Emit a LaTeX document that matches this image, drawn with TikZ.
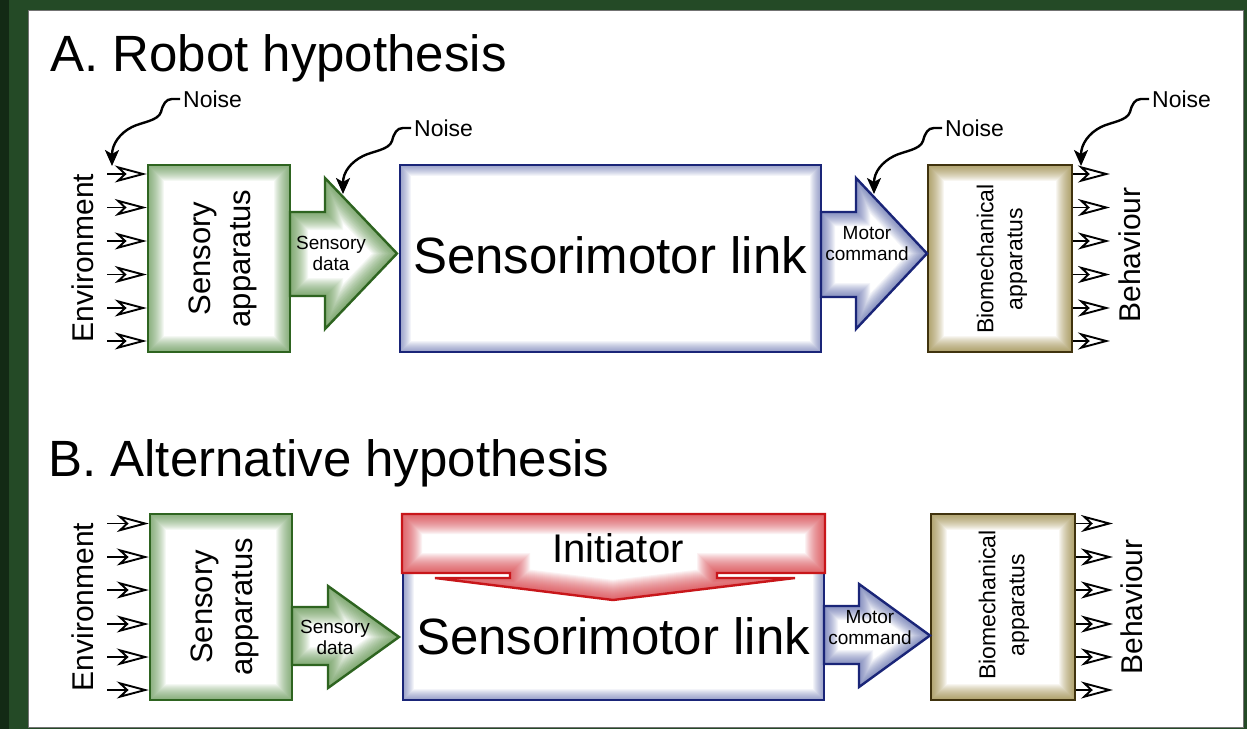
\documentclass[tikz,border=0pt]{standalone}
\usepackage{fontspec}
\setmainfont{Liberation Sans}
\usetikzlibrary{arrows.meta}

\definecolor{framegreen}{HTML}{244A26}
\definecolor{framedark}{HTML}{132A15}
\definecolor{sgreen}{HTML}{2E6420}
\definecolor{gglow}{HTML}{4F8A3A}
\definecolor{lblue}{HTML}{1A2578}
\definecolor{bglow}{HTML}{3A4C9A}
\definecolor{mbrown}{HTML}{40330E}
\definecolor{brglow}{HTML}{8A7420}
\definecolor{ired}{HTML}{C8161A}
\definecolor{rglow}{HTML}{D83038}

% white shape with a soft inner glow and a solid border
\newcommand\glowshape[4]{%
  \fill[white] #1;
  \begin{scope}
    \clip #1;
    \foreach \gw in {1,...,#4}
      \draw[#3, opacity=0.06, line width=2*\gw pt, line join=miter] #1;
  \end{scope}
  \draw[#2, line width=2.4pt, line join=miter] #1;
}

\tikzset{
  glowbox/.style n args={3}{draw=#1, line width=2.4pt, fill=white, inner sep=0pt,
    path picture={\foreach \gw in {1,...,#3}
      \draw[#2, opacity=0.06, line width=2*\gw pt]
        (path picture bounding box.south west) rectangle (path picture bounding box.north east);}},
  title/.style={anchor=base west, inner sep=0pt, font=\fontsize{51}{61}\selectfont},
  big/.style={inner sep=0pt, font=\fontsize{51}{61}\selectfont},
  mid/.style={inner sep=0pt, font=\fontsize{40}{48}\selectfont},
  side/.style={inner sep=0pt, rotate=90, font=\fontsize{30}{36}\selectfont},
  sensetxt/.style={inner sep=0pt, rotate=90, align=center, font=\fontsize{31}{40}\selectfont},
  biotxt/.style={inner sep=0pt, rotate=90, align=center, font=\fontsize{23}{29}\selectfont},
  small/.style={inner sep=0pt, align=center, font=\fontsize{19}{21}\selectfont},
  noisetxt/.style={anchor=west, inner sep=3pt, font=\fontsize{23}{28}\selectfont},
  noisearrow/.style={line width=2.4pt, -{Stealth[length=16pt, width=14pt, inset=4pt]}},
  envarrow/.style={line width=1.8pt, -{Stealth[open, fill=white, length=32pt, width=17pt, inset=9pt, line width=1.9pt]}},
}

\begin{document}
\begin{tikzpicture}[x=1pt, y=-1pt]
\useasboundingbox (0,0) rectangle (1247,729);

% frame and sheet
\fill[framegreen] (0,0) rectangle (1247,729);
\fill[framedark] (0,0) rectangle (9,729);
\fill[white] (28,10) rectangle (1243,727);
\draw[black!55, line width=1pt] (28,10) rectangle (1243,727);

% ---------------- A. Robot hypothesis ----------------
\node[title] (titleA) at (50,71) {A. Robot hypothesis};

\node[glowbox={sgreen}{gglow}{16}, minimum width=142pt, minimum height=187pt] (sensA) at (219,258.5) {};
\node[glowbox={lblue}{bglow}{11}, minimum width=421pt, minimum height=187pt] (smA) at (610.5,258.5) {};
\node[glowbox={mbrown}{brglow}{16}, minimum width=144pt, minimum height=187pt] (bioA) at (1000,258.5) {};

% block arrows
\glowshape{(290,212) -- (325,212) -- (325,178) -- (397,253.5) -- (325,329) -- (325,296) -- (290,296) -- cycle}{sgreen}{gglow}{18}
\glowshape{(821,212) -- (856,212) -- (856,178) -- (927,253.5) -- (856,329) -- (856,297) -- (821,297) -- cycle}{lblue}{bglow}{14}

\node[sensetxt] (sensAtxt) at (223,258.5) {Sensory\\apparatus};
\node[big] (smAtxt) at (610,255) {Sensorimotor link};
\node[biotxt] (bioAtxt) at (1002,259) {Biomechanical\\apparatus};
\node[small] (sdA) at (331,253) {Sensory\\data};
\node[small] (mcA) at (867,244) {Motor\\command};
\node[side] (envA) at (83,258) {Environment};
\node[side] (behA) at (1130,255) {Behaviour};

\foreach \yy [count=\i] in {174,207.5,241,274.5,308,341} {
  \coordinate (eA\i) at (107,\yy);
  \draw[envarrow] (eA\i) -- (eA\i -| sensA.west);
  \coordinate (bA\i) at (1110,\yy);
  \draw[envarrow] (bA\i -| bioA.east) -- (bA\i);
}

% noise sources
\node[noisetxt] (nz1) at (180,99) {Noise};
\node[noisetxt] (nz2) at (411,128) {Noise};
\node[noisetxt] (nz3) at (942,128) {Noise};
\node[noisetxt] (nz4) at (1149,99) {Noise};
\coordinate (nt1) at (112,166);
\coordinate (nt2) at (343,194);
\coordinate (nt3) at (874,194);
\coordinate (nt4) at (1081,166);
\foreach \k in {1,2,3,4} {
  \draw[noisearrow] (nz\k.west) -- ++(-8,0)
    .. controls +(-6,0) and +(2,-8) .. ++(-11,13)
    .. controls +(-3,9) and +(10,-5) .. ++(-29,15)
    .. controls +(-12,6) and +(0,-22) .. (nt\k);
}

% ---------------- B. Alternative hypothesis ----------------
\node[title] (titleB) at (48,476) {B. Alternative hypothesis};

\node[glowbox={sgreen}{gglow}{16}, minimum width=142pt, minimum height=186pt] (sensB) at (221,607) {};
\node[glowbox={lblue}{bglow}{11}, minimum width=421pt, minimum height=186pt] (smB) at (613.5,607) {};
\node[glowbox={mbrown}{brglow}{16}, minimum width=144pt, minimum height=186pt] (bioB) at (1003,607) {};

% initiator block pushing down into the link
\glowshape{(402,514) -- (825,514) -- (825,573) -- (717,573) -- (717,578) -- (795,578) -- (613,600) -- (435,578) -- (510,578) -- (510,573) -- (402,573) -- cycle}{ired}{rglow}{20}

\glowshape{(292,607) -- (328,607) -- (328,586) -- (399,637) -- (328,688) -- (328,665) -- (292,665) -- cycle}{sgreen}{gglow}{18}
\glowshape{(824,606) -- (859,606) -- (859,584) -- (930,635.5) -- (859,687) -- (859,664) -- (824,664) -- cycle}{lblue}{bglow}{14}

\node[sensetxt] (sensBtxt) at (225,607) {Sensory\\apparatus};
\node[big] (smBtxt) at (613,636) {Sensorimotor link};
\node[mid] (initB) at (618,548) {Initiator};
\node[biotxt] (bioBtxt) at (1004,605) {Biomechanical\\apparatus};
\node[small] (sdB) at (335,637) {Sensory\\data};
\node[small] (mcB) at (870,628) {Motor\\command};
\node[side] (envB) at (83,607) {Environment};
\node[side] (behB) at (1132,607) {Behaviour};

\foreach \yy [count=\i] in {523.5,557,590,624,657,690} {
  \coordinate (eB\i) at (107,\yy);
  \draw[envarrow] (eB\i) -- (eB\i -| sensB.west);
  \coordinate (bB\i) at (1113,\yy);
  \draw[envarrow] (bB\i -| bioB.east) -- (bB\i);
}
\end{tikzpicture}
\end{document}
